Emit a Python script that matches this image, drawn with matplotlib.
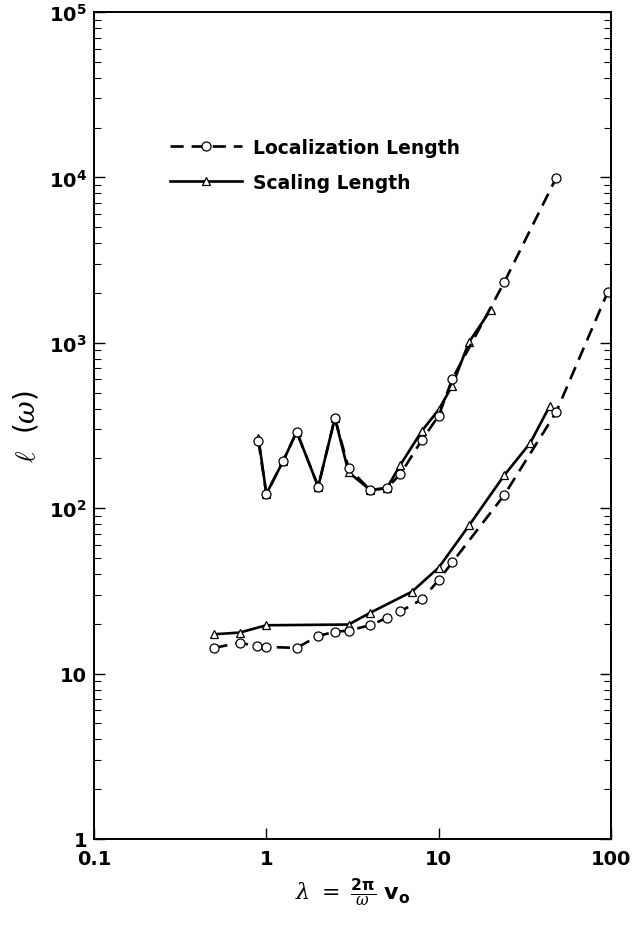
import matplotlib
matplotlib.use("Agg")
import matplotlib.pyplot as plt
from matplotlib.ticker import LogLocator, FixedLocator, NullLocator

plt.rcParams['font.family'] = ['DejaVu Sans']
plt.rcParams['mathtext.fontset'] = 'custom'
plt.rcParams['mathtext.rm'] = 'DejaVu Sans'
plt.rcParams['mathtext.bf'] = 'DejaVu Sans:bold'
plt.rcParams['mathtext.it'] = 'DejaVu Serif:italic'

# Upper group (larger lengths)
up_loc_x = [0.9, 1.0, 1.25, 1.5, 2.0, 2.5, 3.0, 4.0, 5.0, 6.0, 8.0, 10.0, 12.0, 24.0, 48.0]
up_loc_y = [254, 122, 192, 290, 135, 351, 175, 129, 132, 161, 259, 362, 605, 2320, 9900]
up_scl_x = [0.9, 1.0, 1.25, 1.5, 2.0, 2.5, 3.0, 4.0, 5.0, 6.0, 8.0, 10.0, 12.0, 15.0, 20.0]
up_scl_y = [266, 122, 192, 290, 135, 351, 165, 129, 132, 183, 294, 394, 551, 1010, 1578]

# Lower group
lo_loc_x = [0.5, 0.7, 0.88, 1.0, 1.5, 2.0, 2.5, 3.0, 4.0, 5.0, 6.0, 8.0, 10.0, 12.0, 24.0, 48.0, 96.0]
lo_loc_y = [14.3, 15.4, 14.6, 14.5, 14.3, 16.9, 17.9, 18.2, 19.6, 21.7, 23.8, 28.1, 36.8, 47.1, 120, 380, 2040]
lo_scl_x = [0.5, 0.7, 1.0, 3.0, 4.0, 7.0, 10.0, 15.0, 24.0, 34.0, 44.0]
lo_scl_y = [17.3, 17.7, 19.6, 19.8, 23.3, 31.3, 43.7, 78.6, 158, 248, 413]

x_ticks = [0.1, 1, 10, 100]
x_ticklabels = ['0.1', '1', '10', '100']
y_ticks = [1, 10, 100, 1000, 10000, 100000]
y_ticklabels = ['1', '10', r'$\mathbf{10^{2}}$', r'$\mathbf{10^{3}}$', r'$\mathbf{10^{4}}$', r'$\mathbf{10^{5}}$']

loc_label = 'Localization Length'
scl_label = 'Scaling Length'

fig = plt.figure(figsize=(6.41, 9.28), dpi=100)
ax = fig.add_axes([94/641, 1-840/928, (611-94)/641, (840-13)/928])

lw = 1.9
dash = (0, (5, 3))
loc_kw = dict(color='black', lw=lw, linestyle=dash, marker='o', markersize=6.5,
              markerfacecolor='white', markeredgecolor='black', markeredgewidth=0.9)
scl_kw = dict(color='black', lw=lw, linestyle='-', marker='^', markersize=6,
              markerfacecolor='white', markeredgecolor='black', markeredgewidth=0.9)

ax.plot(up_scl_x, up_scl_y, **scl_kw, label=scl_label)
ax.plot(up_loc_x, up_loc_y, **loc_kw, label=loc_label)
ax.plot(lo_scl_x, lo_scl_y, **scl_kw)
ax.plot(lo_loc_x, lo_loc_y, **loc_kw)

ax.set_xscale('log')
ax.set_yscale('log')
ax.set_xlim(0.1, 100)
ax.set_ylim(1, 1e5)

ax.xaxis.set_major_locator(FixedLocator(x_ticks))
ax.xaxis.set_minor_locator(NullLocator())
ax.set_xticklabels(x_ticklabels)
ax.yaxis.set_major_locator(FixedLocator(y_ticks))
ax.yaxis.set_minor_locator(LogLocator(base=10, subs=range(2, 10), numticks=20))
ax.set_yticklabels(y_ticklabels)

ax.tick_params(axis='both', which='major', direction='in', length=8, width=1.0,
               labelsize=14)
ax.tick_params(axis='y', which='both', right=True, direction='in')
ax.tick_params(axis='y', which='minor', length=5, width=0.8)
ax.tick_params(axis='x', which='major', top=False, pad=7)
ax.tick_params(axis='y', which='major', pad=5)
for lab in ax.get_xticklabels() + ax.get_yticklabels():
    lab.set_fontweight('bold')

for s in ax.spines.values():
    s.set_linewidth(1.4)

ax.set_ylabel(r'$\ell\ \ (\omega)$', fontsize=20, labelpad=6)
ax.set_xlabel(r'$\lambda\ =\ \frac{\mathbf{2\pi}}{\omega}\ \mathbf{v_o}$', fontsize=16, labelpad=6)

handles, labels = ax.get_legend_handles_labels()
order = [1, 0]
leg = ax.legend([handles[i] for i in order], [labels[i] for i in order],
                loc='upper left', bbox_to_anchor=(0.115, 0.868), frameon=False,
                numpoints=1, handlelength=3.8, handletextpad=0.6,
                labelspacing=0.85, prop={'weight': 'bold', 'size': 13.5})

fig.savefig('out.png', dpi=100)
